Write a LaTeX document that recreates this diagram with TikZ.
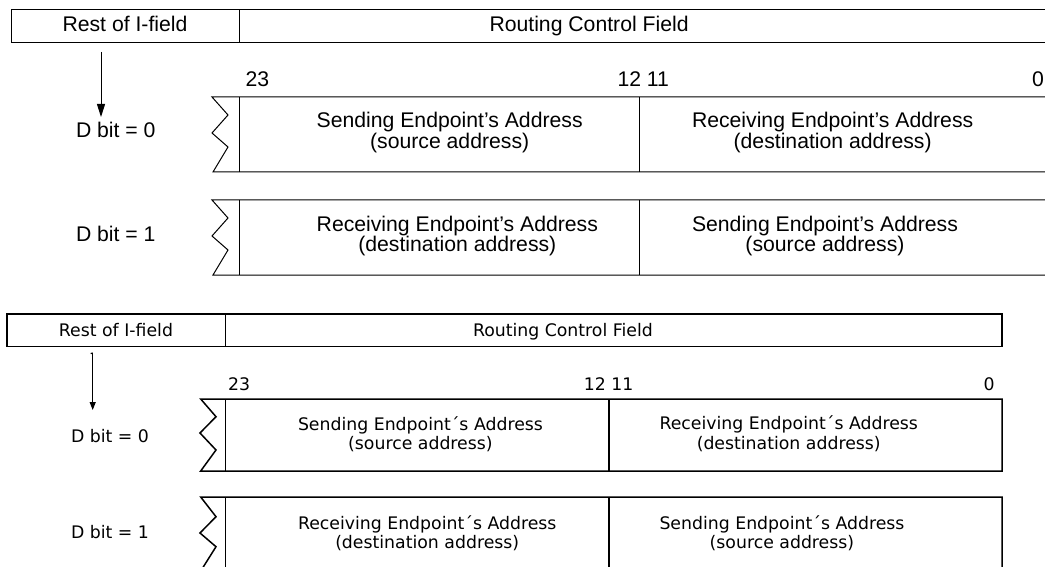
\documentclass[tikz,border=0pt]{standalone}
\usepackage{fontspec}
\setmainfont{Liberation Sans}
\newfontfamily\bitfont{DejaVu Sans}
\usetikzlibrary{arrows.meta}

\begin{document}
\begin{tikzpicture}[x=1pt,y=-1pt,
  every node/.style={inner sep=0pt, outer sep=0pt},
  newline/.style={draw=black, line width=1pt},
  oldline/.style={draw=black, line width=1.5pt},
  newtext/.style={font=\fontsize{21.2}{19}\selectfont},
  oldtext/.style={font=\bitfont\fontsize{17.3}{19.5}\selectfont},
  fieldtext/.style={align=center, anchor=west},
]
\useasboundingbox (0,0) rectangle (1045,567);

% ---------- upper version (outline font) ----------
% header bar
\draw[newline] (11,43) -- (11,9.5) -- (1046,9.5);
\draw[newline] (11,43) -- (1046,43);
\draw[newline] (239,9.5) -- (239,43);
\node[newtext, anchor=base] (t-rest) at (125,31.7) {Rest of I-field};
\node[newtext, anchor=base west] (t-rcf) at (489.5,31.7) {Routing Control Field};

% bit numbers
\node[newtext, anchor=base west] (t-n23) at (245.5,87) {23};
\node[newtext, anchor=base east] (t-n1211) at (669,87) {12 11};
\node[newtext, anchor=base east] (t-n0) at (1044,87) {0};

% D bit = 0 row
\draw[newline] (1046,97) -- (212,97) -- (228,115) -- (212,133) -- (228,147) -- (213,172) -- (1046,172);
\draw[newline] (239,97) -- (239,172);
\draw[newline] (639,97) -- (639,172);
\node[newtext, fieldtext] (t-r1a) at (316.7,132.5) {Sending Endpoint's Address\\(source address)};
\node[newtext, fieldtext] (t-r1b) at (692,132.5) {Receiving Endpoint's Address\\(destination address)};
\node[newtext, anchor=base west] (t-d0) at (76,137.6) {D bit = 0};

% D bit = 1 row
\draw[newline] (1046,200) -- (212,200) -- (228,218) -- (212,236) -- (228,250) -- (213,275) -- (1046,275);
\draw[newline] (239,200) -- (239,275);
\draw[newline] (639,200) -- (639,275);
\node[newtext, fieldtext] (t-r2a) at (316.7,236) {Receiving Endpoint's Address\\(destination address)};
\node[newtext, fieldtext] (t-r2b) at (692,236) {Sending Endpoint's Address\\(source address)};
\node[newtext, anchor=base west] (t-d1) at (76,241) {D bit = 1};

% direction arrow
\coordinate (t-a0) at (101,52);
\coordinate (t-a1) at (101,117);
\draw[newline, -{Triangle[length=13pt,width=8pt]}] (t-a0) -- (t-a1);

% ---------- lower version (bitmap font) ----------
% header bar
\draw[oldline] (7,314) rectangle (1002,346.7);
\draw[oldline] (225.7,314) -- (225.7,346.7);
\node[oldtext, anchor=base] (b-rest) at (116,336.7) {Rest of I-field};
\node[oldtext, anchor=base west] (b-rcf) at (473,336.7) {Routing Control Field};

% bit numbers
\node[oldtext, anchor=base west] (b-n23) at (228,390) {23};
\node[oldtext, anchor=base east] (b-n1211) at (633.5,390) {12 11};
\node[oldtext, anchor=base east] (b-n0) at (994.5,390) {0};

% D bit = 0 row
\draw[oldline] (200.7,399) -- (216,416.7) -- (200,433) -- (216,450) -- (200.7,471) -- (1002,471) -- (1002,399) -- cycle;
\draw[oldline] (225.3,399) -- (225.3,471);
\draw[oldline] (609,399) -- (609,471);
\node[oldtext, fieldtext] (b-r1a) at (298,434) {Sending Endpoint´s Address\\(source address)};
\node[oldtext, fieldtext] (b-r1b) at (659.5,433.5) {Receiving Endpoint´s Address\\(destination address)};
\node[oldtext, anchor=base west] (b-d0) at (71,442) {D bit = 0};

% D bit = 1 row
\draw[oldline] (1002,570) -- (1002,497) -- (200.7,497) -- (216,516.7) -- (200,533) -- (216,546.7) -- (202,569);
\draw[oldline] (225.3,497) -- (225.3,570);
\draw[oldline] (609,497) -- (609,570);
\node[oldtext, fieldtext] (b-r2a) at (298,533) {Receiving Endpoint´s Address\\(destination address)};
\node[oldtext, fieldtext] (b-r2b) at (659.5,533) {Sending Endpoint´s Address\\(source address)};
\node[oldtext, anchor=base west] (b-d1) at (71,538) {D bit = 1};

% direction arrow
\coordinate (b-a0) at (92.7,353);
\coordinate (b-a1) at (92.7,410);
\draw[oldline, line width=1.3pt] (90.7,353.6) -- (b-a0);
\draw[oldline, line width=1.3pt, -{Triangle[length=8pt,width=6pt]}] (b-a0) -- (b-a1);
\end{tikzpicture}
\end{document}
